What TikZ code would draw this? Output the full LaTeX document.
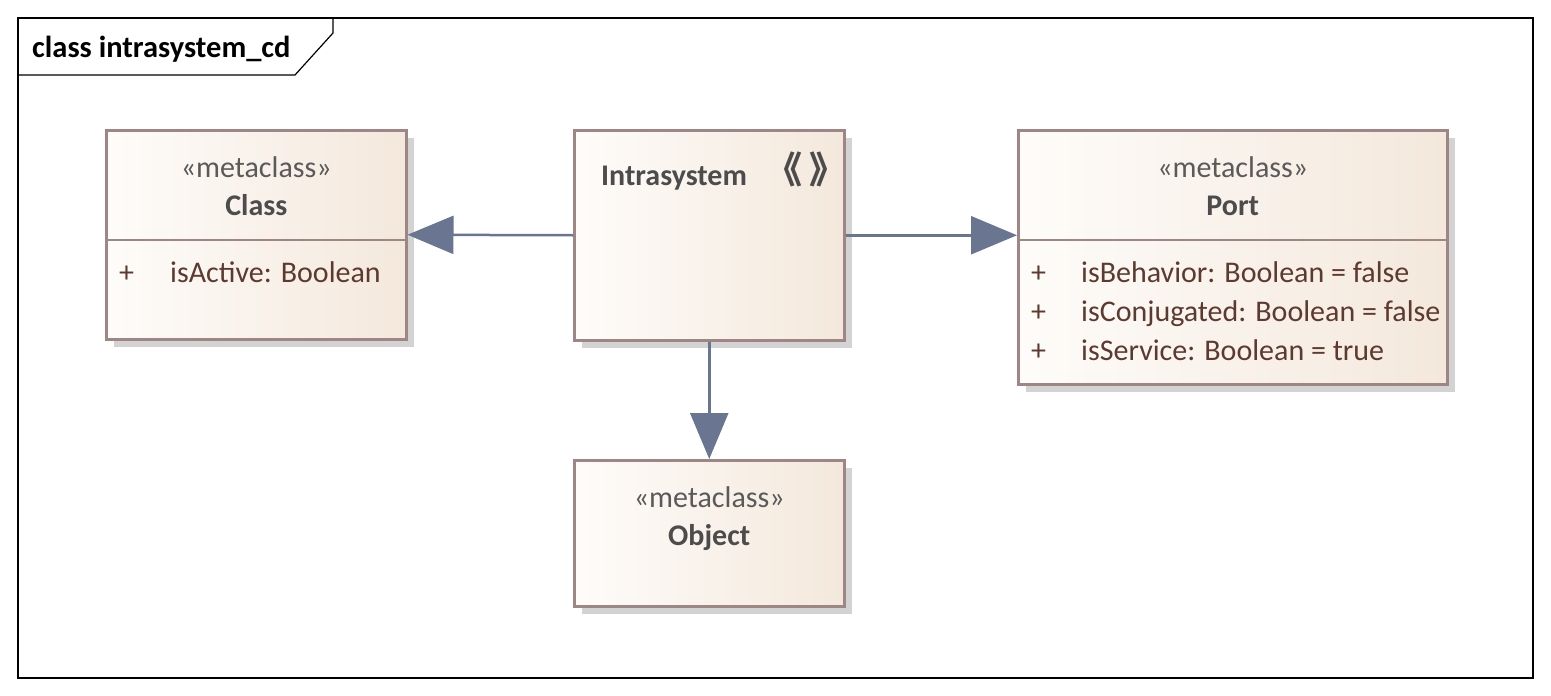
\documentclass[tikz,border=0pt]{standalone}
\usepackage{fontspec}
\setmainfont{Carlito}
\newfontfamily\cjk{Noto Sans CJK SC}
\usetikzlibrary{arrows.meta, shadows}

\definecolor{boxcol}{HTML}{9E8684}
\definecolor{fillleft}{HTML}{FEFCFA}
\definecolor{fillright}{HTML}{F4E8DC}
\definecolor{shadowcol}{HTML}{D3D3D3}
\definecolor{linecol}{HTML}{6A7591}
\definecolor{stereocol}{HTML}{5A5A5A}
\definecolor{namecol}{HTML}{4C4C4C}
\definecolor{attrcol}{HTML}{5D3A2F}

\tikzset{
  metabox/.style={draw=boxcol, line width=2.5pt, left color=fillleft, right color=fillright,
    anchor=north west, inner sep=0pt,
    drop shadow={shadow xshift=8pt, shadow yshift=-8pt, fill=shadowcol, opacity=1}},
  divline/.style={draw=boxcol, line width=2.5pt},
  stereo/.style={anchor=base, inner sep=0pt, text=stereocol, font=\fontsize{30}{36}\selectfont},
  cname/.style={anchor=base, inner sep=0pt, text=namecol, font=\fontsize{30}{36}\selectfont\bfseries},
  attr/.style={anchor=base west, inner sep=0pt, text=attrcol, font=\fontsize{30}{36}\selectfont},
  genline/.style={draw=linecol, line width=2.5pt, -{Triangle[length=46pt, width=38pt]}},
}

\begin{document}
\begin{tikzpicture}[x=1pt, y=-1pt]
    \useasboundingbox (0,0) rectangle (1551,696);

    % frame and its tab
    \draw [line width=1.2pt] (18,18) rectangle (1533,678);
    \draw [line width=1.2pt] (18,75) -- (295,75) -- (333,33) -- (333,18);
    \node [anchor=base west, inner sep=0pt, font=\fontsize{30.5}{36}\selectfont\bfseries] (frametitle) at (32,57) {class intrasystem\_cd};

    % boxes
    \node [metabox, minimum width=300pt, minimum height=209pt] (cls) at (105,129) {};
    \node [metabox, minimum width=270pt, minimum height=210pt] (intra) at (573,129) {};
    \node [metabox, minimum width=429pt, minimum height=254pt] (port) at (1017,129) {};
    \node [metabox, minimum width=270pt, minimum height=146pt] (obj) at (573,459) {};

    \draw [divline] (cls.west |- 0,240) -- (cls.east |- 0,240);
    \draw [divline] (port.west |- 0,240) -- (port.east |- 0,240);

    % Class
    \node [stereo] (clsst) at (cls.north |- 0,177) {«metaclass»};
    \node [cname] (clsname) at (cls.north |- 0,215) {Class};
    \node [attr] (clsplus) at (119,282) {+};
    \node [attr] (clsattr) at (170,282) {isActive: Boolean};

    % Intrasystem
    \node [cname, anchor=base west] (intraname) at (601,185) {Intrasystem};
    \node [cname, anchor=center, font=\cjk\bfseries\fontsize{37}{42}\selectfont] (intrast) at (806,169) {《\hspace{8pt}》};

    % Port
    \node [stereo] (portst) at (port.north |- 0,177) {«metaclass»};
    \node [cname] (portname) at (port.north |- 0,215) {Port};
    \foreach \y/\t [count=\i] in {282/isBehavior: Boolean = false, 321/isConjugated: Boolean = false, 360/isService: Boolean = true} {
      \node [attr] (portplus\i) at (1031,\y) {+};
      \node [attr] (portattr\i) at (1081,\y) {\t};
    }

    % Object
    \node [stereo] (objst) at (obj.north |- 0,507) {«metaclass»};
    \node [cname] (objname) at (obj.north |- 0,545) {Object};

    % generalizations
    \draw [genline] (intra.west) -- (cls.east);
    \draw [genline] (intra.east) -- (intra.east -| port.west);
    \draw [genline] (intra.south) -- (obj.north);
\end{tikzpicture}
\end{document}
